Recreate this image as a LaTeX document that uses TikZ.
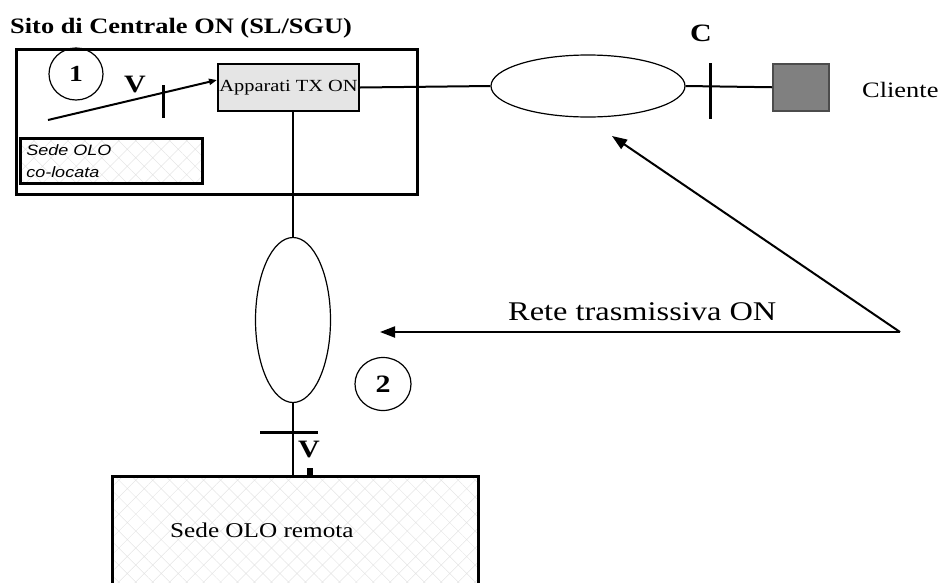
\documentclass[tikz,border=0pt]{standalone}
\usepackage{fontspec}
\setmainfont{Liberation Serif}
\newfontfamily\wserif[FakeStretch=1.2]{Liberation Serif}
\newfontfamily\wsans[FakeStretch=1.2]{Liberation Sans}
\usetikzlibrary{arrows.meta,patterns.meta,shapes.geometric}
\begin{document}
\begin{tikzpicture}[x=1pt,y=-1pt,
  wire/.style={line width=2pt,black},
  tick/.style={line width=3pt,black},
  thin ell/.style={ellipse,draw,line width=1.2pt,inner sep=0pt},
  hatchfill/.style={pattern={Hatch[angle=45,distance=12pt,line width=0.5pt]},pattern color=black!10},
  lbl/.style={inner sep=0pt,font=\wserif},
]
\useasboundingbox (0,0) rectangle (940,582);
% title
\node[lbl,anchor=base west,font=\wserif\bfseries\fontsize{22}{26}\selectfont] (title) at (10,33) {Sito di Centrale ON (SL/SGU)};
% outer box
\node[draw,line width=3pt,anchor=north west,minimum width=401pt,minimum height=145pt,inner sep=0pt] (site) at (15,48) {};
% circle 1
\node[thin ell,minimum width=54pt,minimum height=52pt,font=\wserif\bfseries\fontsize{23}{23}\selectfont] (c1) at (76,74) {1};
% V label
\node[lbl,font=\wserif\bfseries\fontsize{25}{25}\selectfont] (v1) at (135,84) {V};
% Apparati box
\node[draw,line width=2pt,fill=black!10,anchor=north west,minimum width=141pt,minimum height=47pt,inner sep=0pt,font=\wserif\fontsize{17}{20}\selectfont] (app) at (217,63) {Apparati TX ON};
% Sede OLO co-locata
\node[draw,line width=2.5pt,hatchfill,anchor=north west,minimum height=45pt,text width=170pt,inner xsep=6pt,inner ysep=0pt,align=left,font=\wsans\itshape\fontsize{15}{22}\selectfont] (colo) at (20,138) {Sede OLO\\co-locata};
% V line with arrow
\coordinate (vs) at (48,120);
\draw[wire,-{Triangle[length=8pt,width=6pt]}] (vs) -- ([yshift=7.5pt]app.west);
\coordinate (vt1) at (163,85);
\coordinate (vt2) at (163,118);
\draw[tick] (vt1) -- (vt2);
% horizontal ellipse
\node[thin ell,minimum width=194pt,minimum height=62pt] (eh) at (588,86) {};
\draw[wire] (app.east) -- (eh.west);
% client
\node[draw,line width=1.5pt,draw=black!70,fill=black!50,anchor=north west,minimum width=56pt,minimum height=47pt,inner sep=0pt] (cli) at (772,63) {};
\draw[wire] (eh.east) -- (cli.west);
\coordinate (ct1) at (710,63);
\coordinate (ct2) at (710,119);
\draw[tick] (ct1) -- (ct2);
\node[lbl,font=\wserif\bfseries\fontsize{25}{25}\selectfont] (clab) at (701,33) {C};
\node[lbl,anchor=west,font=\wserif\fontsize{22}{22}\selectfont] (clit) at (862,90) {Cliente};
% vertical ellipse
\node[thin ell,minimum width=75pt,minimum height=165pt] (ev) at (293,320) {};
\draw[line width=2.5pt] (ev.north |- app.south) -- (ev.north);
% remote box
\node[draw,line width=2.5pt,hatchfill,anchor=north west,minimum width=366pt,minimum height=130pt,inner sep=0pt] (rem) at (111,475) {};
\node[lbl,anchor=west,font=\wserif\fontsize{21}{21}\selectfont] (remt) at (170,530) {Sede OLO remota};
\draw[line width=2.5pt] (ev.south) -- (ev.south |- rem.north);
\coordinate (bt1) at (260,432);
\coordinate (bt2) at (318,432);
\draw[tick] (bt1) -- (bt2);
\node[lbl,font=\wserif\bfseries\fontsize{25}{25}\selectfont] (v2) at (309,449) {V};
\fill (307,468) rectangle (313,475);
% circle 2
\node[thin ell,minimum width=56pt,minimum height=53pt,font=\wserif\bfseries\fontsize{25}{25}\selectfont] (c2) at (383,384) {2};
% Rete trasmissiva arrows
\coordinate (rs) at (900,332);
\coordinate (rt) at (380,332);
\coordinate (dt) at (612,136);
\draw[wire,-{Triangle[length=15pt,width=11pt]}] (rs) -- (rt);
\draw[wire,-{Triangle[length=15pt,width=11pt]}] (rs) -- (dt);
\node[lbl,anchor=base west,font=\wserif\fontsize{27}{27}\selectfont] (rete) at (508,320) {Rete trasmissiva ON};
\end{tikzpicture}
\end{document}
